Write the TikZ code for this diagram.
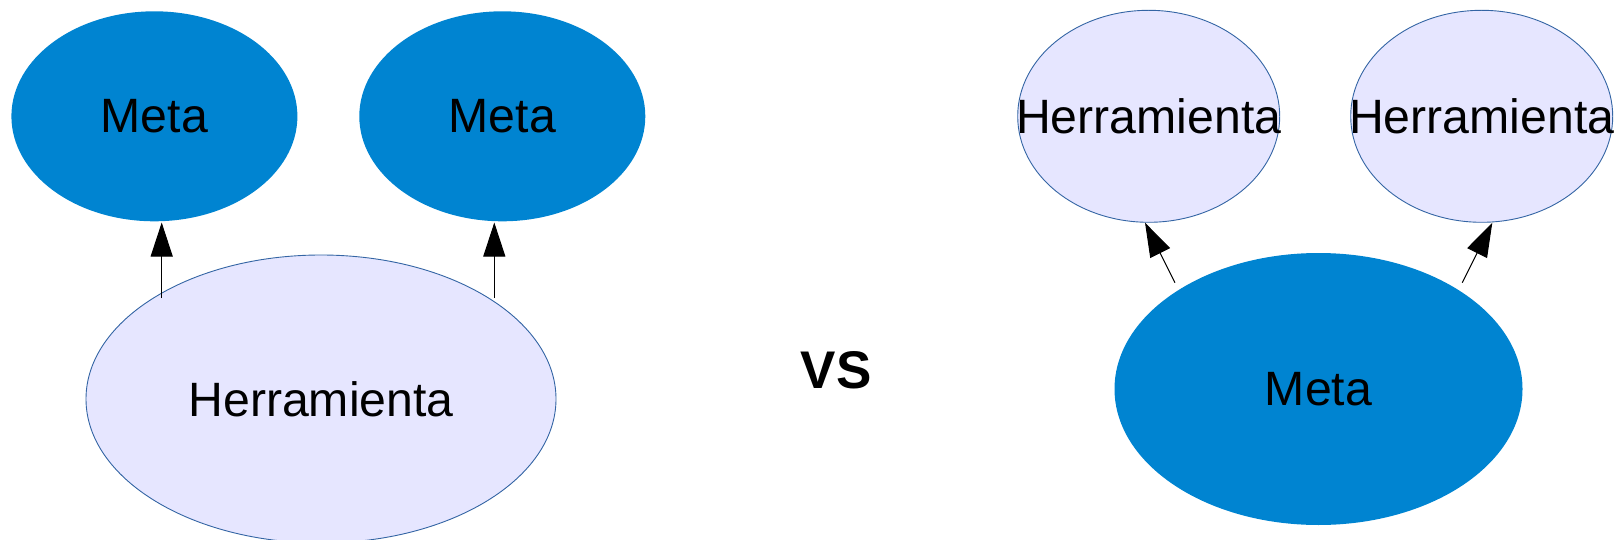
\documentclass[tikz,border=0pt]{standalone}
\usepackage{fontspec}
\setmainfont{Liberation Sans}
\usetikzlibrary{shapes.geometric,arrows.meta}
\definecolor{metablue}{HTML}{0084D1}
\definecolor{toolfill}{HTML}{E6E6FF}
\definecolor{toolline}{HTML}{3465A4}
\tikzset{
  metanode/.style={ellipse, fill=metablue, draw=none, inner sep=0pt},
  toolnode/.style={ellipse, fill=toolfill, draw=toolline, line width=0.9pt, inner sep=0pt},
  lbl/.style={font=\fontsize{48.2}{57}\selectfont, text=black, inner sep=0pt},
  conn/.style={line width=1pt, -{Triangle[length=34pt,width=22pt]}},
}
\begin{document}
\begin{tikzpicture}[x=1pt,y=-1pt]
\path[use as bounding box] (0,0) rectangle (1614,540);
% left side
\node[metanode, minimum width=286pt, minimum height=210pt, label={[lbl]center:Meta}] (m1) at (154.4,116.3) {};
\node[metanode, minimum width=286pt, minimum height=210pt, label={[lbl]center:Meta}] (m2) at (502.3,116.3) {};
\node[toolnode, minimum width=470pt, minimum height=288pt, label={[lbl]center:Herramienta}] (h0) at (321,399) {};
\coordinate (a1s) at (161.7,298);
\coordinate (a1e) at (161.7,222.5);
\coordinate (a2s) at (494.3,298);
\coordinate (a2e) at (494.3,222.5);
\draw[conn] (a1s) -- (a1e);
\draw[conn] (a2s) -- (a2e);
% vs
\node[font=\bfseries\fontsize{53}{60}\selectfont, inner sep=0pt] (vs) at (836,370) {VS};
% right side
\node[toolnode, minimum width=262pt, minimum height=212pt, label={[lbl]center:Herramienta}] (h1) at (1148.7,116.3) {};
\node[toolnode, minimum width=262pt, minimum height=212pt, label={[lbl]center:Herramienta}] (h2) at (1481.7,116.3) {};
\node[metanode, minimum width=408pt, minimum height=272pt, label={[lbl]center:Meta}] (m0) at (1318.5,389) {};
\coordinate (b1s) at (1175,282.7);
\coordinate (b1e) at (1145,222.7);
\coordinate (b2s) at (1462.3,282.7);
\coordinate (b2e) at (1492.3,222.7);
\draw[conn] (b1s) -- (b1e);
\draw[conn] (b2s) -- (b2e);
\end{tikzpicture}
\end{document}
